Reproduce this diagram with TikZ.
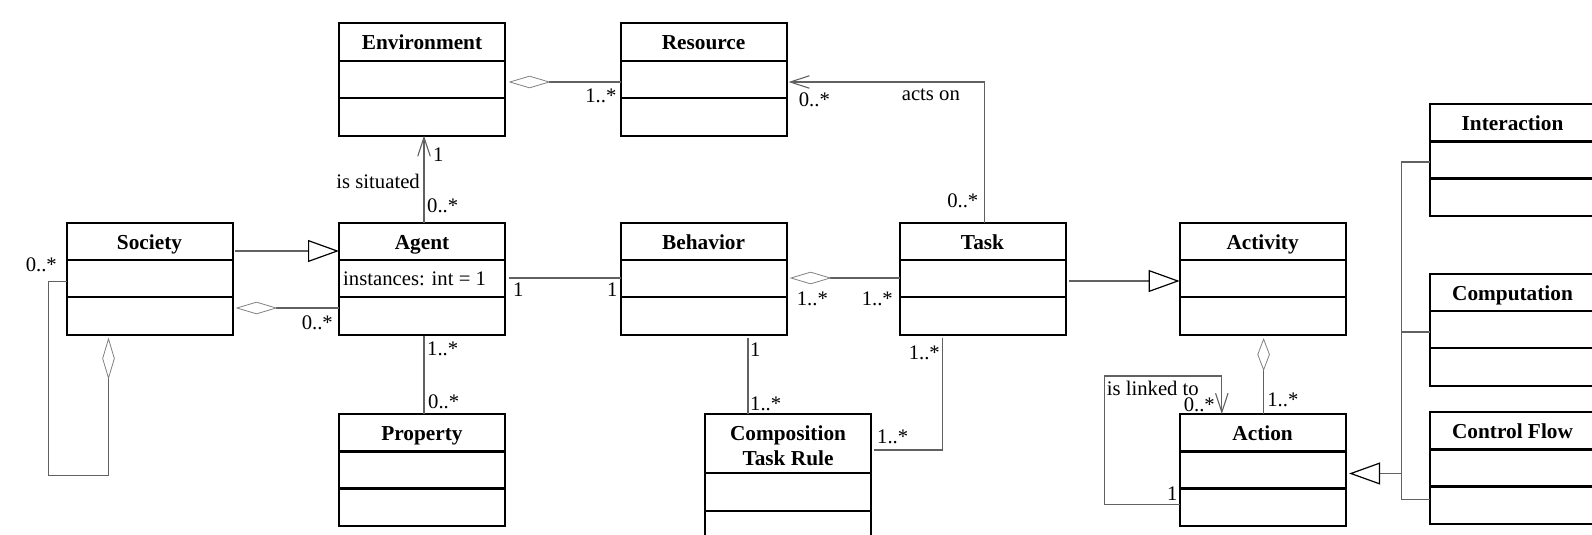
\documentclass[tikz,border=0pt]{standalone}
\usepackage{fontspec}
\setmainfont{Liberation Serif}
\usetikzlibrary{arrows.meta,calc}

\tikzset{
  clsbox/.style={draw=black, line width=2pt, minimum width=166pt, minimum height=112pt,
    inner sep=0pt, outer sep=0pt, anchor=north west},
  clsname/.style={font=\fontsize{21.3}{24}\selectfont\bfseries, inner sep=0pt, align=center},
  clssep/.style={draw=black, line width=2.6pt},
  lbl/.style={font=\fontsize{20.7}{24}\selectfont, inner sep=0pt, text height=14pt, text depth=0pt},
  conn/.style={draw=black!62, line width=1.1pt},
  agg/.style={conn, {Diamond[open, length=42pt, width=12.5pt, line width=0.8pt, color=black!50]}-},
  aggsmall/.style={conn, {Diamond[open, length=33pt, width=12.5pt, line width=0.8pt, color=black!50]}-},
  nav/.style={conn, -{Straight Barb[length=19pt, width=12.5pt, line width=1.1pt]}},
  gen/.style={conn, -{Triangle[open, length=31pt, width=22pt, line width=1.2pt, color=black]}},
}

% class box: node name, top-left corner, class name
\newcommand\umlclass[4]{%
  \node[clsbox] (#1) at (#2,#3) {};
  \node[clsname, anchor=base] (#1-name) at ($(#1.north)+(0,26.5)$) {#4};
  \draw[clssep] ($(#1.north west)+(0,37.5)$) -- ($(#1.north east)+(0,37.5)$);
  \draw[clssep] ($(#1.north west)+(0,74.5)$) -- ($(#1.north east)+(0,74.5)$);
}

\begin{document}
\begin{tikzpicture}[x=1pt, y=-1pt]
\path[use as bounding box] (0,0) rectangle (1592,535);
\clip (0,0) rectangle (1592,535);

% ---------- classes ----------
\umlclass{env}{339}{23.5}{Environment}
\umlclass{resource}{620.6}{23.5}{Resource}
\umlclass{society}{66.5}{222.5}{Society}
\umlclass{agent}{339}{222.5}{Agent}
\umlclass{behavior}{620.6}{222.5}{Behavior}
\umlclass{task}{899.5}{222.5}{Task}
\umlclass{activity}{1179.6}{222.5}{Activity}
\umlclass{property}{339}{414}{Property}
\umlclass{action}{1179.6}{414}{Action}
\umlclass{interaction}{1429.5}{104}{Interaction}
\umlclass{computation}{1429.5}{273.5}{Computation}
\umlclass{controlflow}{1429.5}{412}{Control Flow}

% two-line class name
\node[clsbox, minimum height=134pt] (comp) at (705,414) {};
\node[clsname, anchor=north] (comp-name) at ($(comp.north)+(0,11.5)$) {Composition\\[1.5pt]Task Rule};
\draw[clssep] ($(comp.north west)+(0,59)$) -- ($(comp.north east)+(0,59)$);
\draw[clssep] ($(comp.north west)+(0,97)$) -- ($(comp.north east)+(0,97)$);

\node[lbl, anchor=west] (agent-attr) at ($(agent.north west)+(4,55.5)$) {instances: int = 1};

% ---------- Environment / Resource ----------
\draw[agg] ($(env.north east)+(3.5,58.5)$) -- ($(resource.north west)+(0,58.5)$);
\node[lbl, anchor=east] (m-env-res) at ($(resource.north west)+(-4,72)$) {1..*};

% ---------- Task acts on Resource ----------
\draw[nav] ($(task.north)+(2,0)$) |- ($(resource.north east)+(2,58.5)$);
\node[lbl, anchor=west] (m-res-task) at ($(resource.north east)+(12,75.5)$) {0..*};
\node[lbl, anchor=west] (acts-on) at ($(resource.north east)+(115,69.5)$) {acts on};
\node[lbl, anchor=east] (m-task-res) at ($(task.north)+(-4,-22)$) {0..*};

% ---------- Agent is situated in Environment ----------
\draw[nav] ($(agent.north)+(2,0)$) -- ($(env.south)+(2,0)$);
\node[lbl, anchor=west] (m-env-agent) at ($(env.south)+(11,18.5)$) {1};
\node[lbl, anchor=east] (is-situated) at ($(agent.north)+(-2,-41)$) {is situated};
\node[lbl, anchor=west] (m-agent-env) at ($(agent.north)+(5,-17)$) {0..*};

% ---------- Society / Agent ----------
\draw[gen] ($(society.north east)+(2,28.5)$) -- ($(agent.north west)+(0,28.5)$);
\draw[agg] ($(society.north east)+(3,85.5)$) -- ($(agent.north west)+(0,85.5)$);
\node[lbl, anchor=east] (m-agent-soc) at ($(agent.north west)+(-6,99.5)$) {0..*};

% Society aggregates Society
\draw[agg] ($(society.south west)+(42,3)$) |- ($(society.north west)+(-18,253)$)
  |- ($(society.north west)+(0,59)$);
\node[lbl, anchor=east] (m-soc-soc) at ($(society.north west)+(-9.5,42)$) {0..*};

% ---------- Agent / Property ----------
\draw[conn] ($(agent.south)+(2,1.5)$) -- ($(property.north)+(2,0)$);
\node[lbl, anchor=west] (m-agent-prop) at ($(agent.south)+(5,14)$) {1..*};
\node[lbl, anchor=west] (m-prop-agent) at ($(property.north)+(6,-13)$) {0..*};

% ---------- Agent / Behavior ----------
\draw[conn] ($(agent.north east)+(4,55.5)$) -- ($(behavior.north west)+(0,55.5)$);
\node[lbl, anchor=west] (m-agent-beh) at ($(agent.north east)+(8,67)$) {1};
\node[lbl, anchor=east] (m-beh-agent) at ($(behavior.north west)+(-3,67)$) {1};

% ---------- Behavior / Task ----------
\draw[agg] ($(behavior.north east)+(3,55.5)$) -- ($(task.north west)+(0,55.5)$);
\node[lbl, anchor=west] (m-beh-task) at ($(behavior.north east)+(10,75.5)$) {1..*};
\node[lbl, anchor=east] (m-task-beh) at ($(task.north west)+(-6.5,75.5)$) {1..*};

% ---------- Behavior / Composition Task Rule ----------
\coordinate (bc) at ($(behavior.south west)+(127.4,3)$);
\draw[conn] (bc) -- (bc |- comp.north);
\node[lbl, anchor=west] (m-beh-comp) at ($(bc)+(2,12)$) {1};
\node[lbl, anchor=west] (m-comp-beh) at ($(comp.north west)+(45,-11)$) {1..*};

% ---------- Task / Composition Task Rule ----------
\draw[conn] ($(task.south west)+(43,3)$) |- ($(comp.north east)+(3,36)$);
\node[lbl, anchor=east] (m-task-comp) at ($(task.south west)+(40.5,18)$) {1..*};
\node[lbl, anchor=west] (m-comp-task) at ($(comp.north east)+(6,22.5)$) {1..*};

% ---------- Task / Activity ----------
\draw[gen] ($(task.north east)+(3,58.5)$) -- ($(activity.north west)+(0,58.5)$);

% ---------- Activity / Action ----------
\draw[aggsmall] ($(activity.south)+(1,3.5)$) -- ($(action.north)+(1,0)$);
\node[lbl, anchor=west] (m-act-action) at ($(action.north)+(4.5,-15)$) {1..*};

% Action is linked to Action
\draw[nav] ($(action.north west)+(0,90.5)$) -| ($(action.north west)+(-75.3,-38)$)
  -| ($(action.north west)+(42.2,0)$);
\node[lbl, anchor=west] (is-linked) at ($(action.north west)+(-73,-26)$) {is linked to};
\node[lbl, anchor=east] (m-link-to) at ($(action.north west)+(35.4,-9.5)$) {0..*};
\node[lbl, anchor=east] (m-link-from) at ($(action.north west)+(-2,79)$) {1};

% ---------- Interaction / Computation / Control Flow specialise Action ----------
\draw[conn] ($(interaction.north west)+(0,58)$) -| ($(controlflow.north west)+(-28,87.5)$)
  -- ($(controlflow.north west)+(0,87.5)$);
\draw[conn] ($(computation.north west)+(0,58.5)$) -- ++(-28,0);
\draw[gen] ($(action.north east)+(56,59.5)$) -- ($(action.north east)+(3.5,59.5)$);

\end{tikzpicture}
\end{document}
